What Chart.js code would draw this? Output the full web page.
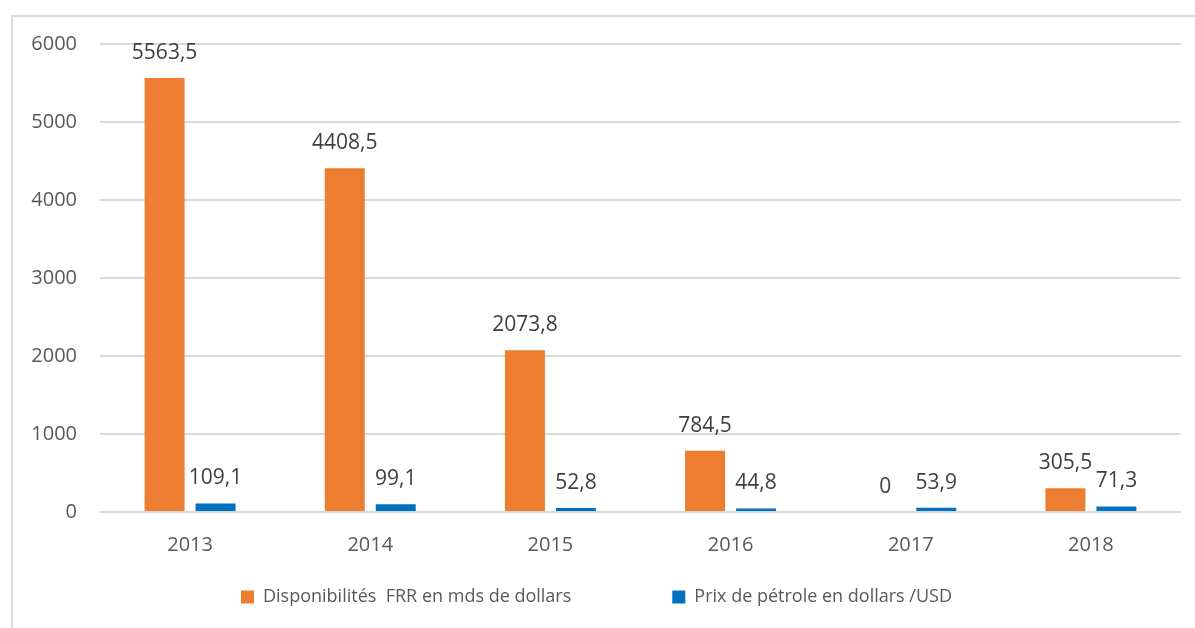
<!DOCTYPE html>
<html>
<head>
<meta charset="utf-8">
<script src="https://cdn.jsdelivr.net/npm/chart.js@4/dist/chart.umd.min.js"></script>
<style>
  html, body { margin: 0; padding: 0; background: #fff; }
  #frame { position: absolute; left: 11px; top: 15px; width: 1184px; height: 613px;
           border-left: 2px solid #d9d9d9; border-top: 2px solid #d9d9d9; box-sizing: border-box; }
  #wrap { position: absolute; left: 0; top: 0; width: 1195px; height: 628px; }
</style>
</head>
<body>
<div id="frame"></div>
<div id="wrap"><canvas id="c" width="1195" height="628"></canvas></div>
<script>
const categories = ["2013", "2014", "2015", "2016", "2017", "2018"];
const frrValues = [5563.5, 4408.5, 2073.8, 784.5, 0, 305.5];
const oilValues = [109.1, 99.1, 52.8, 44.8, 53.9, 71.3];
const seriesNames = ["Disponibilités  FRR en mds de dollars", "Prix de pétrole en dollars /USD"];
const yTicks = [0, 1000, 2000, 3000, 4000, 5000, 6000];

const FONT = "'Open Sans', 'DejaVu Sans', sans-serif";
const LEGEND_PAD = 101;

const labelPlugin = {
  id: 'valueLabels',
  beforeDraw(chart) {
    // place the legend row at the reference's position
    if (chart.legend) {
      chart.legend.top = 597 - LEGEND_PAD - 9;
      chart.legend.left += 6;
      chart.legend.right += 6;
    }
  },
  afterDatasetsDraw(chart) {
    const ctx = chart.ctx;
    ctx.save();
    ctx.font = "21px " + FONT;
    ctx.fillStyle = "#404040";
    ctx.textAlign = "center";
    ctx.textBaseline = "middle";
    chart.data.datasets.forEach((ds, i) => {
      const meta = chart.getDatasetMeta(i);
      meta.data.forEach((el, j) => {
        const v = ds.data[j];
        ctx.fillText(String(v).replace('.', ','), el.x, el.y - 25);
      });
    });
    ctx.restore();
  }
};

new Chart(document.getElementById('c'), {
  type: 'bar',
  data: {
    labels: categories,
    datasets: [
      { label: seriesNames[0], data: frrValues, backgroundColor: '#ED7D31',
        categoryPercentage: 0.566, barPercentage: 0.784 },
      { label: seriesNames[1], data: oilValues, backgroundColor: '#0070C0',
        categoryPercentage: 0.566, barPercentage: 0.784 }
    ]
  },
  options: {
    responsive: false,
    animation: false,
    devicePixelRatio: 1,
    layout: { padding: { left: 0, right: 14, top: 44, bottom: 0 } },
    plugins: {
      legend: {
        position: 'bottom',
        maxHeight: 70,
        labels: {
          font: { size: 18, family: FONT },
          color: '#595959',
          boxWidth: 13, boxHeight: 13,
          padding: LEGEND_PAD
        }
      },
      tooltip: { enabled: false }
    },
    scales: {
      x: {
        grid: { display: false },
        border: { display: false },
        afterFit(scale) { scale.height = 46; },
        ticks: { font: { size: 20, family: FONT }, color: '#595959', padding: 13 }
      },
      y: {
        min: 0, max: 6000,
        afterBuildTicks(scale) { scale.ticks = yTicks.map(v => ({ value: v })); },
        afterFit(scale) { scale.width = 100; },
        grid: { color: '#d9d9d9', lineWidth: 2, drawTicks: false },
        border: { display: false },
        ticks: { font: { size: 20, family: FONT }, color: '#595959', padding: 23,
                 callback: (v) => String(v) }
      }
    }
  },
  plugins: [labelPlugin]
});
</script>
</body>
</html>
